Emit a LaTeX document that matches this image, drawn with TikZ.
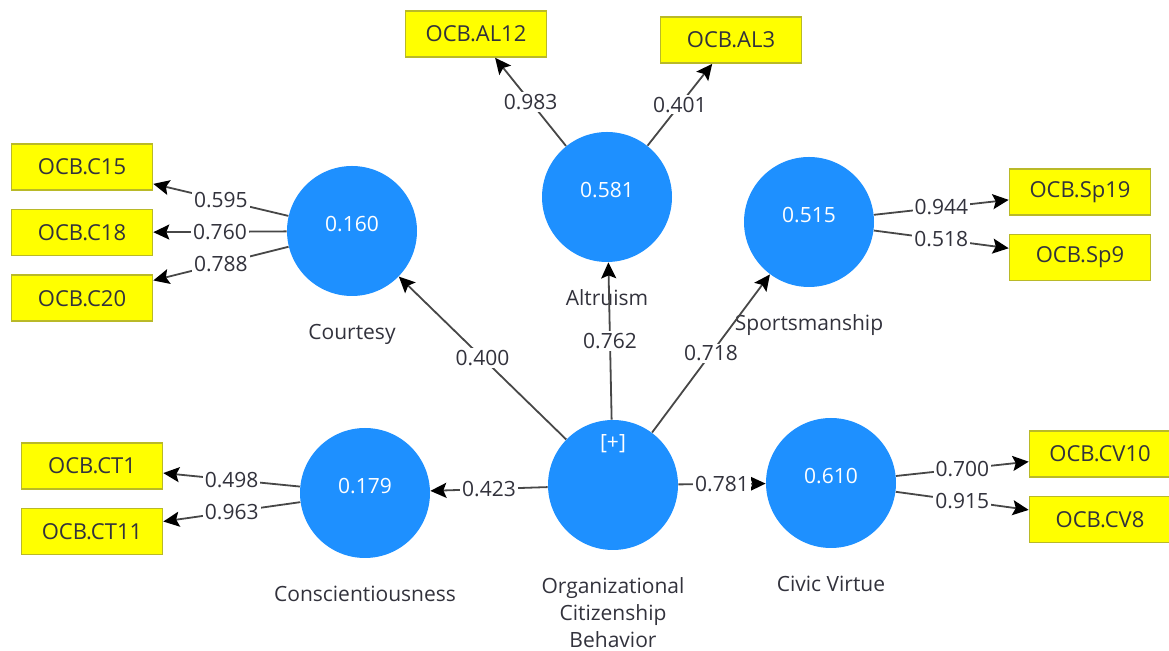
\documentclass[tikz,border=0pt]{standalone}
\usepackage{fontspec}
\setmainfont{Open Sans}
\usetikzlibrary{positioning}
\usetikzlibrary{arrows.meta}

\definecolor{plsblue}{RGB}{30,144,255}
\definecolor{plsyellow}{RGB}{255,255,0}
\definecolor{plsborder}{RGB}{185,185,40}
\definecolor{plstext}{RGB}{50,50,60}

\begin{document}
\begin{tikzpicture}[
            x=0.5pt, y=-0.5pt,
            >={Stealth[length=8pt, width=7.5pt, inset=1.5pt, color=black]},
            bluecirclenode/.style={circle, fill=plsblue, minimum size=65pt, inner sep=0pt, text=white, font=\fontsize{10.5}{12}\selectfont, text height=7pt, text depth=6pt},
            yellowsquarednode/.style={rectangle, draw=plsborder, fill=plsyellow, thick, minimum width=70.5pt, minimum height=23pt, text=plstext, font=\fontsize{11}{13}\selectfont},
            namelabel/.style={text=plstext, font=\fontsize{10.5}{13.5}\selectfont, align=center, inner sep=1pt, text height={}, text depth={}, yshift=-12.5pt},
            weightlabel/.style={fill=white, text=plstext, inner sep=1pt, font=\fontsize{10.5}{12}\selectfont},
            loadingline/.style={->, draw=black!72, line width=0.9pt},
            ]
            \useasboundingbox (0,0) rectangle (1169,651);

            % latent variables
            \node[bluecirclenode, text depth=42pt, label={[namelabel]below:Organizational\\Citizenship\\Behavior}] (OCB) at (613,485) {[+]};
            \node[bluecirclenode, label={[namelabel]below:Courtesy}] (CO) at (352,231) {0.160};
            \node[bluecirclenode, label={[namelabel]below:Altruism}] (AL) at (607,197) {0.581};
            \node[bluecirclenode, label={[namelabel]below:Sportsmanship}] (SP) at (809,222) {0.515};
            \node[bluecirclenode, label={[namelabel]below:Conscientiousness}] (CT) at (365,493) {0.179};
            \node[bluecirclenode, label={[namelabel]below:Civic Virtue}] (CV) at (831,483) {0.610};

            % indicators
            \node[yellowsquarednode] (C15) at (82,167) {OCB.C15};
            \node[yellowsquarednode, below=9pt of C15] (C18) {OCB.C18};
            \node[yellowsquarednode, below=9pt of C18] (C20) {OCB.C20};
            \node[yellowsquarednode] (AL12) at (476,34) {OCB.AL12};
            \node[yellowsquarednode] (AL3) at (731,40) {OCB.AL3};
            \node[yellowsquarednode] (SP19) at (1080,192) {OCB.Sp19};
            \node[yellowsquarednode, below=9pt of SP19] (SP9) {OCB.Sp9};
            \node[yellowsquarednode] (CT1) at (92,466) {OCB.CT1};
            \node[yellowsquarednode, below=9pt of CT1] (CT11) {OCB.CT11};
            \node[yellowsquarednode] (CV10) at (1100,454) {OCB.CV10};
            \node[yellowsquarednode, below=9pt of CV10] (CV8) {OCB.CV8};

            % inner model
            \draw[loadingline] (OCB) -- node[weightlabel] {0.400} (CO);
            \draw[loadingline] (OCB) -- node[weightlabel] {0.762} (AL);
            \draw[loadingline] (OCB) -- node[weightlabel] {0.718} (SP);
            \draw[loadingline] (OCB) -- node[weightlabel] {0.423} (CT);
            \draw[loadingline] (OCB) -- node[weightlabel] {0.781} (CV);

            % outer model
            \draw[loadingline] (CO) -- node[weightlabel] {0.595} (C15);
            \draw[loadingline] (CO) -- node[weightlabel] {0.760} (C18);
            \draw[loadingline] (CO) -- node[weightlabel] {0.788} (C20);
            \draw[loadingline] (AL) -- node[weightlabel] {0.983} (AL12);
            \draw[loadingline] (AL) -- node[weightlabel] {0.401} (AL3);
            \draw[loadingline] (SP) -- node[weightlabel] {0.944} (SP19);
            \draw[loadingline] (SP) -- node[weightlabel] {0.518} (SP9);
            \draw[loadingline] (CT) -- node[weightlabel] {0.498} (CT1);
            \draw[loadingline] (CT) -- node[weightlabel] {0.963} (CT11);
            \draw[loadingline] (CV) -- node[weightlabel] {0.700} (CV10);
            \draw[loadingline] (CV) -- node[weightlabel] {0.915} (CV8);
        \end{tikzpicture}
\end{document}
